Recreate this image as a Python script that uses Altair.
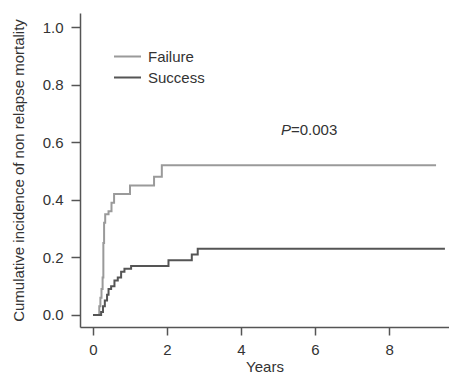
import altair as alt
import pandas as pd

# Failure group: step times (years) and cumulative incidence
fail_t = [0.0, 0.17, 0.20, 0.23, 0.26, 0.28, 0.30, 0.33, 0.42, 0.50, 0.57, 1.00, 1.65, 1.86, 9.27]
fail_v = [0.0, 0.03, 0.06, 0.09, 0.13, 0.25, 0.32, 0.35, 0.36, 0.39, 0.42, 0.45, 0.48, 0.52, 0.52]

# Success group
succ_t = [0.0, 0.22, 0.27, 0.32, 0.38, 0.42, 0.49, 0.58, 0.67, 0.76, 0.85, 1.03, 2.04, 2.67, 2.83, 9.51]
succ_v = [0.0, 0.01, 0.03, 0.05, 0.07, 0.09, 0.10, 0.12, 0.13, 0.15, 0.16, 0.17, 0.19, 0.21, 0.23, 0.23]

groups = ["Failure", "Success"]
colors = ["#9a9a9a", "#555555"]
x_ticks = [0, 2, 4, 6, 8]
y_ticks = [0.0, 0.2, 0.4, 0.6, 0.8, 1.0]

df = pd.concat([
    pd.DataFrame({"t": fail_t, "v": fail_v, "group": "Failure", "o": range(len(fail_t))}),
    pd.DataFrame({"t": succ_t, "v": succ_v, "group": "Success", "o": range(len(succ_t))}),
])

FONT = "Liberation Sans"
TXT = "#333333"

x = alt.X("t:Q", title="Years",
          scale=alt.Scale(domain=[-0.351, 9.62], nice=False, zero=False),
          axis=alt.Axis(values=x_ticks, format="d", grid=False, tickSize=8,
                        labelPadding=7, titlePadding=2))
y = alt.Y("v:Q", title="Cumulative incidence of non relapse mortality",
          scale=alt.Scale(domain=[-0.042, 1.049], nice=False, zero=False),
          axis=alt.Axis(values=y_ticks, format=".1f", grid=False, tickSize=9,
                        labelPadding=8, titlePadding=16))

lines = alt.Chart(df).mark_line(interpolate="step-after", strokeWidth=2).encode(
    x=x, y=y,
    order="o:Q",
    color=alt.Color("group:N", scale=alt.Scale(domain=groups, range=colors),
                    legend=alt.Legend(title=None, orient="none", legendX=33, legendY=36,
                                      symbolType="stroke", symbolSize=729,
                                      symbolStrokeWidth=2, labelFontSize=15,
                                      labelFont=FONT, labelColor=TXT, labelOffset=6,
                                      clipHeight=15, rowPadding=5, padding=0)),
)

ann_p = alt.Chart(pd.DataFrame({"s": ["P"]})).mark_text(
    font=FONT, fontSize=15, fontStyle="italic", color=TXT, align="left", baseline="middle"
).encode(x=alt.value(201), y=alt.value(117), text="s:N")
ann_v = alt.Chart(pd.DataFrame({"s": ["=0.003"]})).mark_text(
    font=FONT, fontSize=15, color=TXT, align="left", baseline="middle"
).encode(x=alt.value(211), y=alt.value(117), text="s:N")

chart = alt.layer(lines, ann_p, ann_v).properties(
    width=369, height=314,
    autosize=alt.AutoSizeParams(type="none"),
    padding={"left": 80, "top": 13, "right": 0, "bottom": 49},
).configure_view(stroke=None).configure_axis(
    domainColor="#555555", domainWidth=1.5, tickColor="#555555", tickWidth=1.5,
    labelFont=FONT, labelFontSize=15, labelColor=TXT,
    titleFont=FONT, titleFontSize=15, titleColor=TXT, titleFontWeight="normal",
)

chart.save("out.html", embed_options={"renderer": "svg", "actions": False})
